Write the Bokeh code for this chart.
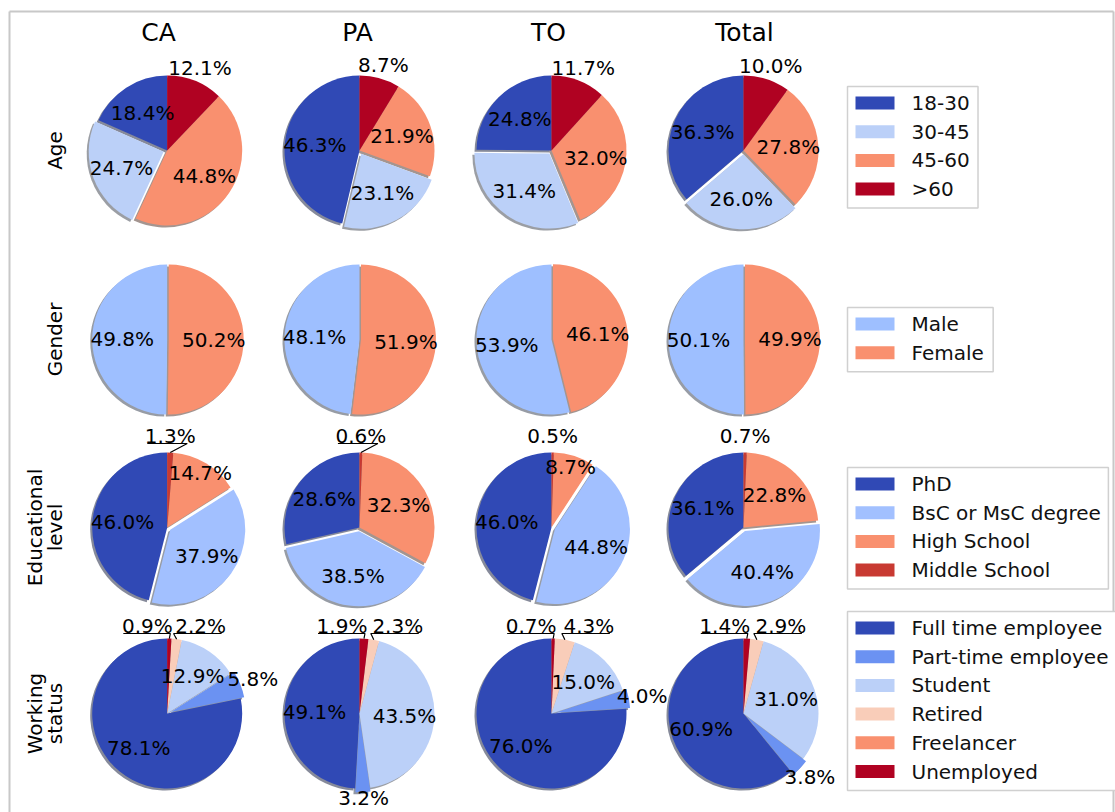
import numpy as np
from bokeh.plotting import figure
from bokeh.models import Range1d, ColumnDataSource
from bokeh.embed import file_html
from bokeh.resources import INLINE
from bokeh.core.properties import value

# ---------------- data ----------------
groups = ["CA", "PA", "TO", "Total"]

age_labels = ["18-30", "30-45", "45-60", ">60"]
age_values = [[18.4, 24.7, 44.8, 12.1],
              [46.3, 23.1, 21.9, 8.7],
              [24.8, 31.4, 32.0, 11.7],
              [36.3, 26.0, 27.8, 10.0]]

gender_labels = ["Male", "Female"]
gender_values = [[49.8, 50.2],
                 [48.1, 51.9],
                 [53.9, 46.1],
                 [50.1, 49.9]]

edu_labels = ["PhD", "BsC or MsC degree", "High School", "Middle School"]
edu_values = [[46.0, 37.9, 14.7, 1.3],
              [28.6, 38.5, 32.3, 0.6],
              [46.0, 44.8, 8.7, 0.5],
              [36.1, 40.4, 22.8, 0.7]]

work_labels = ["Full time employee", "Part-time employee", "Student",
               "Retired", "Freelancer", "Unemployed"]
work_values = [[78.1, 5.8, 12.9, 2.2, 0.0, 0.9],
               [49.1, 3.2, 43.5, 2.3, 0.0, 1.9],
               [76.0, 4.0, 15.0, 4.3, 0.0, 0.7],
               [60.9, 3.8, 31.0, 2.9, 0.0, 1.4]]

# ---------------- styles ----------------
DARK_BLUE = "#3049b5"
SALMON = "#f9906f"
DARK_RED = "#b00222"
age_colors = [DARK_BLUE, "#bbd0f8", SALMON, DARK_RED]
gender_colors = ["#9ebfff", SALMON]
edu_colors = [DARK_BLUE, "#a2c0ff", SALMON, "#c83a32"]
work_colors = [DARK_BLUE, "#6b92f2", "#bbd0f8", "#f9cdb9", SALMON, DARK_RED]

FONT = value("DejaVu Sans")
LBL = "20px"

rows = [
    dict(title=["Age"], labels=age_labels, values=age_values, colors=age_colors,
         explode=[0, 0.05, 0, 0], dist=[0.6, 0.6, 0.6, 1.18]),
    dict(title=["Gender"], labels=gender_labels, values=gender_values, colors=gender_colors,
         explode=[0, 0.02], dist=[0.6, 0.6]),
    dict(title=["Educational", "level"], labels=edu_labels, values=edu_values, colors=edu_colors,
         explode=[0, 0.05, 0, 0], dist=[0.6, 0.6, "small", "ann-center"]),
    dict(title=["Working", "status"], labels=work_labels, values=work_values, colors=work_colors,
         explode=[0, 0.05, 0, 0, 0, 0], dist=[0.6, 1.18, 0.6, "ann-right", None, "ann-left"]),
]
edu_leader = [True, True, False, False]

# layout (reference pixel coordinates)
W, H = 1115, 812
R = 75.0
col_x = [166.7, 359.0, 551.0, 743.0]
row_y = [150.0, 339.0, 527.0, 713.0]
title_x = [158.0, 357.0, 548.0, 744.0]
legend_top = [86.0, 307.0, 467.0, 611.0]
LEG_X0, SW_X0, SW_X1, LEG_TX = 847.0, 855.0, 894.0, 911.0
PITCH = 28.7
LOWEST_LABEL = 797.0


def Y(ypx):
    return 812.0 - ypx


CW = {' ': 0.318, '-': 0.361, '>': 0.838, '%': 0.95, '.': 0.318,
      'B': 0.686, 'C': 0.698, 'D': 0.770, 'F': 0.575, 'H': 0.752, 'M': 0.863,
      'P': 0.603, 'R': 0.695, 'S': 0.635, 'U': 0.732,
      'a': 0.613, 'c': 0.550, 'd': 0.635, 'e': 0.615, 'f': 0.352, 'g': 0.635,
      'h': 0.634, 'i': 0.278, 'l': 0.278, 'm': 0.974, 'n': 0.634, 'o': 0.612,
      'p': 0.635, 'r': 0.411, 's': 0.521, 't': 0.392, 'u': 0.634, 'y': 0.592}


def text_w(s, size):
    return sum(CW.get(ch, 0.636) for ch in s) * size


def shadow_of(hexcol):
    h = hexcol.lstrip("#")
    r, g, b = (int(h[i:i + 2], 16) for i in (0, 2, 4))
    return "#%02x%02x%02x" % (int(0.3 * r), int(0.3 * g), int(0.3 * b))


p = figure(width=W, height=H, x_range=Range1d(0, W), y_range=Range1d(812 - H, 812),
           min_border=0, toolbar_location=None, output_backend="svg",
           x_axis_type=None, y_axis_type=None)
p.grid.visible = False
p.outline_line_color = None
p.background_fill_color = "white"
p.border_fill_color = "white"

# frame border
p.multi_line(xs=[[9, 1113], [9, 9], [1113, 1113]],
             ys=[[Y(11), Y(11)], [Y(11), Y(812)], [Y(11), Y(812)]],
             line_color="#c8c8c8", line_width=2)

wed = dict(x=[], y=[], s=[], e=[], c=[])
sha = dict(x=[], y=[], s=[], e=[], c=[])
lab = dict(x=[], y=[], t=[])
lines_x, lines_y = [], []

for ri, row in enumerate(rows):
    for ci in range(len(groups)):
        vals = np.array(row["values"][ci], dtype=float)
        fr = vals / vals.sum()
        cx, cy = col_x[ci], Y(row_y[ri])
        theta = 90.0
        for k, f in enumerate(fr):
            t1 = theta
            t2 = theta + 360.0 * f
            theta = t2
            if f <= 0:
                continue
            mid = np.deg2rad(0.5 * (t1 + t2))
            ex = row["explode"][k] * R
            x = cx + ex * np.cos(mid)
            y = cy + ex * np.sin(mid)
            for d, col in ((wed, row["colors"][k]), (sha, shadow_of(row["colors"][k]))):
                off = 0.0 if d is wed else 2.0
                d["x"].append(x - off)
                d["y"].append(y - off)
                d["s"].append(np.deg2rad(t1))
                d["e"].append(np.deg2rad(t2))
                d["c"].append(col)
            txt = "%.1f%%" % vals[k]
            mode = row["dist"][k]
            if mode == "small":
                mode = 0.85 if vals[k] < 20 else 0.6
            if isinstance(mode, float):
                lab["x"].append(x + mode * R * np.cos(mid))
                lab["y"].append(max(y + mode * R * np.sin(mid), Y(LOWEST_LABEL)))
                lab["t"].append(txt)
            elif isinstance(mode, str):
                px = x + R * np.cos(mid)
                py = y + R * np.sin(mid)
                if mode == "ann-center":
                    lab["x"].append(px)
                    lab["y"].append(cy + R + 17)
                    lab["t"].append(txt)
                    if edu_leader[ci]:
                        ul = cy + R + 9
                        lines_x.append([px - 23, px + 17, px])
                        lines_y.append([ul, ul, py])
                else:
                    ul = cy + R + 5
                    lab["y"].append(cy + R + 13)
                    lab["t"].append(txt)
                    if mode == "ann-left":
                        lab["x"].append(px - 22)
                        lines_x.append([px - 46, px + 1, px])
                        lines_y.append([ul, ul, py])
                    else:
                        lab["x"].append(px + 24)
                        lines_x.append([px + 45, px - 3, px - 2, px])
                        lines_y.append([ul, ul, ul - 2, py])

p.wedge(x="x", y="y", radius=R, start_angle="s", end_angle="e",
        fill_color="c", fill_alpha=0.5, line_color=None,
        source=ColumnDataSource(sha), direction="anticlock")
p.wedge(x="x", y="y", radius=R, start_angle="s", end_angle="e",
        fill_color="c", line_color=None,
        source=ColumnDataSource(wed), direction="anticlock")
p.multi_line(xs=lines_x, ys=lines_y, line_color="black", line_width=1.2)
p.text(x="x", y="y", text="t", source=ColumnDataSource(lab),
       text_font=FONT, text_font_size=LBL, text_align="center",
       text_baseline="middle", text_color="black")

# column titles
p.text(x=title_x, y=[Y(32)] * len(groups), text=groups, text_font=FONT,
       text_font_size="25px", text_align="center", text_baseline="middle",
       text_color="black")

# row titles
rt = dict(x=[], y=[], t=[])
for ri, row in enumerate(rows):
    n = len(row["title"])
    for j, t in enumerate(row["title"]):
        rt["x"].append(54 - 20 * (n - 1 - j))
        rt["y"].append(Y(row_y[ri]))
        rt["t"].append(t)
p.text(x="x", y="y", text="t", source=ColumnDataSource(rt), angle=np.pi / 2,
       text_font=FONT, text_font_size=LBL, text_align="center",
       text_baseline="middle", text_color="black")

# legends
box = dict(x=[], y=[], w=[], h=[])
sw = dict(x=[], y=[], c=[])
lt = dict(x=[], y=[], t=[])
for ri, row in enumerate(rows):
    top = legend_top[ri]
    n = len(row["labels"])
    right = LEG_TX + max(text_w(s, 19.8) for s in row["labels"]) + 9
    bottom = top + 16.5 + PITCH * (n - 1) + 19
    box["x"].append(0.5 * (LEG_X0 + right))
    box["y"].append(Y(0.5 * (top + bottom)))
    box["w"].append(right - LEG_X0)
    box["h"].append(bottom - top)
    for k, name in enumerate(row["labels"]):
        yy = Y(top + 16.5 + PITCH * k)
        sw["x"].append(0.5 * (SW_X0 + SW_X1))
        sw["y"].append(yy)
        sw["c"].append(row["colors"][k])
        lt["x"].append(LEG_TX)
        lt["y"].append(yy)
        lt["t"].append(name)

p.rect(x="x", y="y", width="w", height="h", source=ColumnDataSource(box),
       fill_color="white", line_color="#d0d0d0", line_width=1.5)
p.rect(x="x", y="y", width=SW_X1 - SW_X0, height=13, source=ColumnDataSource(sw),
       fill_color="c", line_color=None)
p.text(x="x", y="y", text="t", source=ColumnDataSource(lt), text_font=FONT,
       text_font_size=LBL, text_align="left", text_baseline="middle",
       text_color="#111111")

open("out.html", "w").write(file_html(p, INLINE))
